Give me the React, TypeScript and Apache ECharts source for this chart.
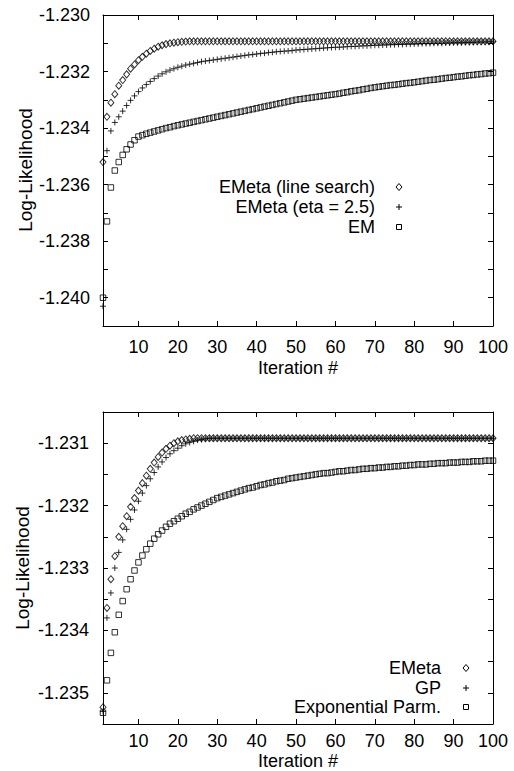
import React, { useEffect, useRef } from "react";
import * as echarts from "echarts";

// ---------- DATA ----------
const xTickValues = [10, 20, 30, 40, 50, 60, 70, 80, 90, 100];

// Top panel
const topLineSearch = [
  -1.2352, -1.2336, -1.2331, -1.2328, -1.2325, -1.2323, -1.2321, -1.2319, -1.23175, -1.2316,
  -1.23148, -1.23137, -1.23127, -1.23119, -1.23112, -1.23107, -1.23103, -1.231, -1.23098, -1.23096,
  -1.23095, -1.23094, -1.23093, -1.23093, -1.23093, -1.23093, -1.23093, -1.23093, -1.23093, -1.23093,
  -1.23093, -1.23093, -1.23093, -1.23093, -1.23093, -1.23093, -1.23093, -1.23093, -1.23093, -1.23093,
  -1.23093, -1.23093, -1.23093, -1.23093, -1.23093, -1.23093, -1.23093, -1.23093, -1.23093, -1.23093,
  -1.23093, -1.23093, -1.23093, -1.23093, -1.23093, -1.23093, -1.23093, -1.23093, -1.23093, -1.23093,
  -1.23093, -1.23093, -1.23093, -1.23093, -1.23093, -1.23093, -1.23093, -1.23093, -1.23093, -1.23093,
  -1.23093, -1.23093, -1.23093, -1.23093, -1.23093, -1.23093, -1.23093, -1.23093, -1.23093, -1.23093,
  -1.23093, -1.23093, -1.23093, -1.23093, -1.23093, -1.23093, -1.23093, -1.23093, -1.23093, -1.23093,
  -1.23093, -1.23093, -1.23093, -1.23093, -1.23093, -1.23093, -1.23093, -1.23093, -1.23093, -1.23093,
];

const topEta25 = [
  -1.2403, -1.2348, -1.2341, -1.2338, -1.2336, -1.2334, -1.2332, -1.23302, -1.23286, -1.23271,
  -1.23258, -1.23246, -1.23235, -1.23225, -1.23216, -1.23208, -1.23201, -1.23195, -1.2319, -1.23185,
  -1.23181, -1.23177, -1.23174, -1.23171, -1.23168, -1.23165, -1.23163, -1.23161, -1.23159, -1.23157,
  -1.23155, -1.23153, -1.23151, -1.23149, -1.23147, -1.23145, -1.23143, -1.23141, -1.2314, -1.23138,
  -1.23136, -1.23135, -1.23133, -1.23132, -1.2313, -1.23129, -1.23128, -1.23127, -1.23126, -1.23124,
  -1.23123, -1.23122, -1.23121, -1.2312, -1.23119, -1.23118, -1.23117, -1.23116, -1.23115, -1.23114,
  -1.23114, -1.23113, -1.23112, -1.23111, -1.23111, -1.2311, -1.23109, -1.23109, -1.23108, -1.23107,
  -1.23107, -1.23106, -1.23106, -1.23105, -1.23105, -1.23104, -1.23104, -1.23103, -1.23103, -1.23102,
  -1.23102, -1.23101, -1.23101, -1.23101, -1.231, -1.231, -1.231, -1.23099, -1.23099, -1.23098,
  -1.23098, -1.23098, -1.23097, -1.23097, -1.23097, -1.23096, -1.23096, -1.23096, -1.23095, -1.23095,
];

const topEM = [
  -1.24, -1.2373, -1.2361, -1.2355, -1.2352, -1.23495, -1.23475, -1.23458, -1.23443, -1.2343,
  -1.23425, -1.2342, -1.23416, -1.23412, -1.23408, -1.23404, -1.234, -1.23397, -1.23393, -1.2339,
  -1.23387, -1.23384, -1.23381, -1.23378, -1.23375, -1.23372, -1.23369, -1.23366, -1.23363, -1.2336,
  -1.23357, -1.23354, -1.23351, -1.23348, -1.23345, -1.23342, -1.23339, -1.23336, -1.23333, -1.2333,
  -1.23327, -1.23324, -1.23321, -1.23318, -1.23315, -1.23312, -1.23309, -1.23306, -1.23303, -1.233,
  -1.23298, -1.23296, -1.23294, -1.23292, -1.2329, -1.23288, -1.23286, -1.23284, -1.23282, -1.2328,
  -1.23278, -1.23275, -1.23273, -1.2327, -1.23268, -1.23266, -1.23263, -1.23261, -1.23258, -1.23256,
  -1.23254, -1.23252, -1.2325, -1.23248, -1.23247, -1.23245, -1.23243, -1.23241, -1.2324, -1.23238,
  -1.23236, -1.23234, -1.23232, -1.2323, -1.23229, -1.23227, -1.23225, -1.23223, -1.23222, -1.2322,
  -1.23218, -1.23217, -1.23215, -1.23213, -1.23212, -1.2321, -1.23209, -1.23207, -1.23206, -1.23204,
];

// Bottom panel
const botEMeta = [
  -1.23523, -1.23364, -1.23318, -1.23281, -1.2325, -1.23233, -1.23217, -1.23202, -1.23188, -1.23176,
  -1.23164, -1.23152, -1.23141, -1.23131, -1.23122, -1.23115, -1.23109, -1.23104, -1.231, -1.23097,
  -1.23095, -1.23094, -1.23093, -1.23092, -1.23092, -1.23092, -1.23092, -1.23092, -1.23092, -1.23092,
  -1.23092, -1.23092, -1.23092, -1.23092, -1.23092, -1.23092, -1.23092, -1.23092, -1.23092, -1.23092,
  -1.23092, -1.23092, -1.23092, -1.23092, -1.23092, -1.23092, -1.23092, -1.23092, -1.23092, -1.23092,
  -1.23092, -1.23092, -1.23092, -1.23092, -1.23092, -1.23092, -1.23092, -1.23092, -1.23092, -1.23092,
  -1.23092, -1.23092, -1.23092, -1.23092, -1.23092, -1.23092, -1.23092, -1.23092, -1.23092, -1.23092,
  -1.23092, -1.23092, -1.23092, -1.23092, -1.23092, -1.23092, -1.23092, -1.23092, -1.23092, -1.23092,
  -1.23092, -1.23092, -1.23092, -1.23092, -1.23092, -1.23092, -1.23092, -1.23092, -1.23092, -1.23092,
  -1.23092, -1.23092, -1.23092, -1.23092, -1.23092, -1.23092, -1.23092, -1.23092, -1.23092, -1.23092,
];

const botGP = [
  -1.2353, -1.2338, -1.2334, -1.233, -1.23275, -1.23255, -1.23238, -1.23222, -1.23207, -1.23193,
  -1.2318, -1.23168, -1.23157, -1.23147, -1.23138, -1.2313, -1.23123, -1.23117, -1.23112, -1.23108,
  -1.23104, -1.23101, -1.23099, -1.23097, -1.23095, -1.23094, -1.23093, -1.23092, -1.23092, -1.23092,
  -1.23092, -1.23092, -1.23092, -1.23092, -1.23092, -1.23092, -1.23092, -1.23092, -1.23092, -1.23092,
  -1.23092, -1.23092, -1.23092, -1.23092, -1.23092, -1.23092, -1.23092, -1.23092, -1.23092, -1.23092,
  -1.23092, -1.23092, -1.23092, -1.23092, -1.23092, -1.23092, -1.23092, -1.23092, -1.23092, -1.23092,
  -1.23092, -1.23092, -1.23092, -1.23092, -1.23092, -1.23092, -1.23092, -1.23092, -1.23092, -1.23092,
  -1.23092, -1.23092, -1.23092, -1.23092, -1.23092, -1.23092, -1.23092, -1.23092, -1.23092, -1.23092,
  -1.23092, -1.23092, -1.23092, -1.23092, -1.23092, -1.23092, -1.23092, -1.23092, -1.23092, -1.23092,
  -1.23092, -1.23092, -1.23092, -1.23092, -1.23092, -1.23092, -1.23092, -1.23092, -1.23092, -1.23092,
];

const botExpParm = [
  -1.23532, -1.2348, -1.23436, -1.23403, -1.23375, -1.23353, -1.23334, -1.23318, -1.23304, -1.23291,
  -1.2328, -1.2327, -1.23261, -1.23253, -1.23246, -1.2324, -1.23234, -1.23229, -1.23225, -1.23221,
  -1.23217, -1.23213, -1.2321, -1.23206, -1.23203, -1.232, -1.23197, -1.23194, -1.23191, -1.23188,
  -1.23186, -1.23184, -1.23182, -1.2318, -1.23178, -1.23176, -1.23174, -1.23172, -1.23171, -1.23169,
  -1.23167, -1.23166, -1.23164, -1.23163, -1.23161, -1.2316, -1.23159, -1.23157, -1.23156, -1.23155,
  -1.23154, -1.23153, -1.23152, -1.23151, -1.2315, -1.23149, -1.23148, -1.23148, -1.23147, -1.23146,
  -1.23145, -1.23145, -1.23144, -1.23143, -1.23143, -1.23142, -1.23141, -1.23141, -1.2314, -1.2314,
  -1.23139, -1.23139, -1.23138, -1.23138, -1.23137, -1.23137, -1.23136, -1.23136, -1.23135, -1.23135,
  -1.23134, -1.23134, -1.23134, -1.23133, -1.23133, -1.23132, -1.23132, -1.23132, -1.23131, -1.23131,
  -1.23131, -1.2313, -1.2313, -1.2313, -1.23129, -1.23129, -1.23129, -1.23128, -1.23128, -1.23128,
];

const topLegend = ["EMeta (line search)", "EMeta (eta = 2.5)", "EM"];
const botLegend = ["EMeta", "GP", "Exponential Parm."];
const xTitle = "Iteration #";
const yTitle = "Log-Likelihood";

// ---------- STYLE ----------
const FONT = "'Liberation Sans', Arial, Helvetica, sans-serif";
const BLACK = "#000";
const PLUS = "path://M0 5H10M5 0V10";

const toPoints = (vals: number[]) => vals.map((v, i) => [i + 1, v]);

const symbolStyle = (symbol: string, size: number | number[]) => ({
  symbol,
  symbolSize: size,
  itemStyle: { color: "rgba(0,0,0,0)", borderColor: BLACK, borderWidth: 1 },
});

function legendKey(kind: string, x: number, y: number): any {
  const st = { fill: "none", stroke: BLACK, lineWidth: 1 };
  if (kind === "diamond") {
    return { type: "polygon", x, y, shape: { points: [[0, -3.5], [3, 0], [0, 3.5], [-3, 0]] }, style: st, silent: true };
  }
  if (kind === "plus") {
    return {
      type: "group", x, y, silent: true,
      children: [
        { type: "line", shape: { x1: -3, y1: 0, x2: 3, y2: 0 }, style: { stroke: BLACK, lineWidth: 1 } },
        { type: "line", shape: { x1: 0, y1: -3, x2: 0, y2: 3 }, style: { stroke: BLACK, lineWidth: 1 } },
      ],
    };
  }
  return { type: "rect", x, y, shape: { x: -2.5, y: -2.5, width: 5, height: 5 }, style: st, silent: true };
}

function legendText(text: string, x: number, y: number): any {
  return {
    type: "text", x, y, silent: true,
    style: { text, fontSize: 18, fontFamily: FONT, fill: BLACK, align: "right", verticalAlign: "middle" },
  };
}

export default function App() {
  const ref = useRef<HTMLDivElement>(null);

  useEffect(() => {
    if (!ref.current) return;
    const chart = echarts.init(ref.current, null, { renderer: "svg" });

    const axisLine = { show: true, lineStyle: { color: BLACK, width: 1 } };
    const tickStyle = { color: BLACK, width: 1 };

    const xAxis = (gridIndex: number, position: string, showLabel: boolean, margin: number) => ({
      type: "value",
      gridIndex,
      position,
      min: 1,
      max: 100,
      axisLine,
      axisTick: { show: true, inside: true, length: 5, customValues: xTickValues, lineStyle: tickStyle },
      axisLabel: {
        show: showLabel,
        customValues: xTickValues,
        margin,
        fontSize: 18,
        fontFamily: FONT,
        color: BLACK,
      },
      splitLine: { show: false },
    });

    const yAxis = (
      gridIndex: number,
      position: string,
      showLabel: boolean,
      min: number,
      max: number,
      interval: number,
      labelEvery: number,
      margin: number
    ) => ({
      type: "value",
      gridIndex,
      position,
      min,
      max,
      interval,
      axisLine,
      axisTick: { show: true, inside: true, length: 5, lineStyle: tickStyle },
      axisLabel: {
        show: showLabel,
        margin,
        fontSize: 18,
        fontFamily: FONT,
        color: BLACK,
        formatter: (v: number) =>
          Math.abs(v / labelEvery - Math.round(v / labelEvery)) < 1e-6 ? v.toFixed(3) : "",
      },
      splitLine: { show: false },
    });

    const option: any = {
      animation: false,
      backgroundColor: "#fff",
      grid: [
        { left: 103, top: 15, width: 390, height: 311, containLabel: false },
        { left: 103, top: 412, width: 390, height: 312, containLabel: false },
      ],
      xAxis: [
        xAxis(0, "bottom", true, 12),
        xAxis(0, "top", false, 8),
        xAxis(1, "bottom", true, 8),
        xAxis(1, "top", false, 8),
      ],
      yAxis: [
        yAxis(0, "left", true, -1.241, -1.23, 0.001, 0.002, 13),
        yAxis(0, "right", false, -1.241, -1.23, 0.001, 0.002, 8),
        yAxis(1, "left", true, -1.2355, -1.2305, 0.0005, 0.001, 14),
        yAxis(1, "right", false, -1.2355, -1.2305, 0.0005, 0.001, 8),
      ],
      series: [
        { name: topLegend[2], type: "scatter", xAxisIndex: 0, yAxisIndex: 0, data: toPoints(topEM), silent: true, ...symbolStyle("rect", 5.5) },
        { name: topLegend[1], type: "scatter", xAxisIndex: 0, yAxisIndex: 0, data: toPoints(topEta25), silent: true, ...symbolStyle(PLUS, 6) },
        { name: topLegend[0], type: "scatter", xAxisIndex: 0, yAxisIndex: 0, data: toPoints(topLineSearch), silent: true, ...symbolStyle("diamond", [6, 7]) },
        { name: botLegend[2], type: "scatter", xAxisIndex: 2, yAxisIndex: 2, data: toPoints(botExpParm), silent: true, ...symbolStyle("rect", 5.5) },
        { name: botLegend[1], type: "scatter", xAxisIndex: 2, yAxisIndex: 2, data: toPoints(botGP), silent: true, ...symbolStyle(PLUS, 6) },
        { name: botLegend[0], type: "scatter", xAxisIndex: 2, yAxisIndex: 2, data: toPoints(botEMeta), silent: true, ...symbolStyle("diamond", [6, 7]) },
      ],
      graphic: [
        {
          type: "text", x: 298, y: 368, silent: true,
          style: { text: xTitle, fontSize: 18, fontFamily: FONT, fill: BLACK, align: "center", verticalAlign: "middle" },
        },
        {
          type: "text", x: 298, y: 761, silent: true,
          style: { text: xTitle, fontSize: 18, fontFamily: FONT, fill: BLACK, align: "center", verticalAlign: "middle" },
        },
        {
          type: "text", x: 25, y: 170, rotation: Math.PI / 2, silent: true,
          style: { text: yTitle, fontSize: 19, fontFamily: FONT, fill: BLACK, align: "center", verticalAlign: "middle" },
        },
        {
          type: "text", x: 22, y: 568, rotation: Math.PI / 2, silent: true,
          style: { text: yTitle, fontSize: 19, fontFamily: FONT, fill: BLACK, align: "center", verticalAlign: "middle" },
        },
        legendText(topLegend[0], 375, 187),
        legendKey("diamond", 399, 187),
        legendText(topLegend[1], 375, 207),
        legendKey("plus", 399, 207),
        legendText(topLegend[2], 375, 227),
        legendKey("rect", 399, 227),
        legendText(botLegend[0], 441, 668),
        legendKey("diamond", 466, 668),
        legendText(botLegend[1], 441, 688),
        legendKey("plus", 466, 688),
        legendText(botLegend[2], 441, 707),
        legendKey("rect", 466, 707),
      ],
    };

    chart.setOption(option);
    return () => chart.dispose();
  }, []);

  return (
    <div
      ref={ref}
      style={{ position: "absolute", left: 0, top: 0, width: 514, height: 771, background: "#fff" }}
    />
  );
}
